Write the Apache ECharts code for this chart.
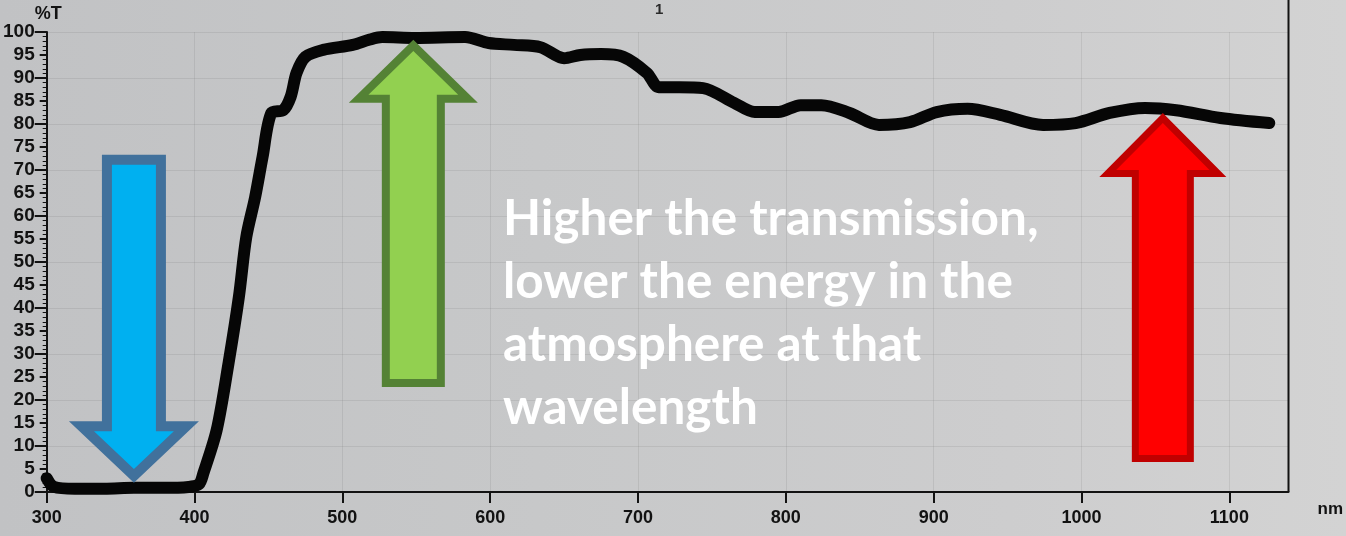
<!DOCTYPE html>
<html>
<head>
<meta charset="utf-8">
<script src="https://cdn.jsdelivr.net/npm/echarts@6/dist/echarts.min.js"></script>
<style>
  html, body { margin: 0; padding: 0; }
  body {
    width: 1346px; height: 536px; overflow: hidden;
    background: linear-gradient(90deg, #c1c2c4 0%, #c7c8c9 40%, #cdcdce 75%, #d3d3d3 100%);
  }
  #chart { width: 1346px; height: 536px; }
</style>
</head>
<body>
<div id="chart"></div>
<script>
// Transmission spectrum (%T versus wavelength in nm)
const wavelength = [300, 305, 319, 339, 359, 379, 396, 403, 406, 415, 423, 430, 435, 441, 446, 452,
  460, 465, 469, 475, 487, 507, 518, 527, 549, 583, 599, 616, 634, 650, 661, 675, 690, 706, 714,
  728, 744, 765, 779, 795, 810, 824, 843, 863, 884, 902, 923, 945, 974, 996, 1019, 1043, 1064,
  1094, 1127];
const transmission = [3.0, 1.1, 0.7, 0.7, 0.9, 0.9, 1.1, 1.7, 4.1, 13.5, 28.0, 42.4, 55.4, 64.1,
  72.8, 82.4, 83.0, 85.9, 91.1, 94.6, 96.1, 97.2, 98.3, 98.9, 98.7, 98.9, 97.6, 97.2, 96.7, 94.3,
  95.0, 95.2, 94.6, 91.1, 88.0, 88.0, 87.8, 84.6, 82.6, 82.6, 84.1, 84.1, 82.4, 79.8, 80.4, 82.6,
  83.3, 82.0, 79.8, 80.2, 82.4, 83.5, 83.0, 81.3, 80.2];

const xTicks = [300, 400, 500, 600, 700, 800, 900, 1000, 1100];
const xRange = [300, 1140];
const yRange = [0, 100];

// Wavelengths marked by the arrows, with the %T levels of tail, neck and tip
const arrowAt = [359, 548, 1055];
const arrowTail = [73.3, 22.8, 6.5];
const arrowNeck = [15.4, 84.6, 68.5];
const arrowTip = [2.0, 98.3, 82.4];

const noteLines = [
  'Higher the transmission,',
  'lower the energy in the',
  'atmosphere at that',
  'wavelength'
];

// Arrow styles: fill, outline, outline width, half shaft width, half head width
const arrowStyles = [
  { fill: '#00b0f0', edge: '#41719c', border: 10, shaft: 32, head: 65 },
  { fill: '#92d050', edge: '#548235', border: 8, shaft: 31.5, head: 64.5 },
  { fill: '#ff0000', edge: '#c00000', border: 7, shaft: 31, head: 63.5 }
];

const axisFont = "'Liberation Sans', Arial, sans-serif";
const ink = '#121212';
const paperGrid = 'rgba(95, 95, 95, 0.13)';

const chart = echarts.init(document.getElementById('chart'), null, { renderer: 'canvas' });

chart.setOption({
  backgroundColor: 'transparent',
  animation: false,
  grid: { left: 42, right: 53, top: 32, bottom: 44, containLabel: false },
  xAxis: {
    type: 'value',
    min: xRange[0], max: xRange[1], interval: 100,
    name: 'nm', nameLocation: 'end', nameGap: 29,
    nameTextStyle: { color: ink, fontFamily: axisFont, fontWeight: 'bold', fontSize: 17,
      align: 'left', verticalAlign: 'top', padding: [9, 0, 0, 0] },
    axisLine: { show: true, onZero: false, lineStyle: { color: ink, width: 2 } },
    axisTick: { show: true, customValues: xTicks, length: 11, lineStyle: { color: ink, width: 2 } },
    axisLabel: { customValues: xTicks, color: ink, fontFamily: axisFont, fontWeight: 'bold',
      fontSize: 18, margin: 17, formatter: v => String(v) },
    splitLine: { show: true, lineStyle: { color: paperGrid, width: 1 } }
  },
  yAxis: [{
    type: 'value',
    min: yRange[0], max: yRange[1], interval: 5,
    axisLine: { show: true, lineStyle: { color: ink, width: 2 } },
    axisTick: { show: true, length: 7, lineStyle: { color: ink, width: 2 } },
    minorTick: { show: true, splitNumber: 5, length: 4, lineStyle: { color: ink, width: 1 } },
    axisLabel: { color: ink, fontFamily: axisFont, fontWeight: 'bold', fontSize: 19, margin: 12,
      formatter: v => String(v) },
    splitLine: { show: false }
  }, {
    // longer ticks every 10 %T plus the faint paper grid
    type: 'value', position: 'left',
    min: yRange[0], max: yRange[1], interval: 10,
    axisLine: { show: false },
    axisTick: { show: true, length: 12, lineStyle: { color: ink, width: 2 } },
    axisLabel: { show: false },
    splitLine: { show: true, lineStyle: { color: paperGrid, width: 1 } }
  }],
  series: [{
    type: 'line',
    name: '%T',
    xAxisIndex: 0, yAxisIndex: 0,
    data: wavelength.map((w, i) => [w, transmission[i]]),
    showSymbol: false,
    smooth: 0.3,
    clip: false,
    lineStyle: { color: '#060606', width: 12, cap: 'round', join: 'round' },
    z: 3
  }]
});

// Shrink a polygon inward by d pixels (edges offset, corners re-intersected)
function inset(pts, d) {
  const n = pts.length;
  let area = 0;
  for (let i = 0; i < n; i++) {
    const p = pts[i], q = pts[(i + 1) % n];
    area += p[0] * q[1] - q[0] * p[1];
  }
  const sgn = area > 0 ? 1 : -1;
  const lines = pts.map((p, i) => {
    const q = pts[(i + 1) % n];
    const dx = q[0] - p[0], dy = q[1] - p[1];
    const len = Math.hypot(dx, dy);
    const nx = sgn * -dy / len, ny = sgn * dx / len;
    return { p: [p[0] + nx * d, p[1] + ny * d], v: [dx, dy] };
  });
  return pts.map((_, i) => {
    const a = lines[(i - 1 + n) % n], b = lines[i];
    const cr = a.v[0] * b.v[1] - a.v[1] * b.v[0];
    const wx = b.p[0] - a.p[0], wy = b.p[1] - a.p[1];
    const t = (wx * b.v[1] - wy * b.v[0]) / cr;
    return [a.p[0] + a.v[0] * t, a.p[1] + a.v[1] * t];
  });
}

function toPx(x, y) {
  return chart.convertToPixel({ xAxisIndex: 0, yAxisIndex: 0 }, [x, y]);
}

const graphics = [];

// right-hand frame of the recorder chart
const frameTop = toPx(xRange[1], yRange[1]);
const frameBottom = toPx(xRange[1], yRange[0]);
graphics.push({
  type: 'line', z: 2,
  shape: { x1: frameTop[0], y1: 0, x2: frameBottom[0], y2: frameBottom[1] },
  style: { stroke: ink, lineWidth: 2 }
});

// axis unit above the %T scale
const axisTop = toPx(xRange[0], yRange[1]);
graphics.push({
  type: 'text', z: 5, left: axisTop[0] - 12, top: 5,
  style: { text: '%T', fill: ink, fontFamily: axisFont, fontWeight: 'bold', fontSize: 18 }
});

arrowAt.forEach((w, i) => {
  const st = arrowStyles[i];
  const cx = toPx(w, 0)[0];
  const yTail = toPx(w, arrowTail[i])[1];
  const yNeck = toPx(w, arrowNeck[i])[1];
  const yTip = toPx(w, arrowTip[i])[1];
  const outer = [
    [cx, yTip], [cx + st.head, yNeck], [cx + st.shaft, yNeck], [cx + st.shaft, yTail],
    [cx - st.shaft, yTail], [cx - st.shaft, yNeck], [cx - st.head, yNeck]
  ];
  graphics.push({ type: 'polygon', z: 100, shape: { points: outer }, style: { fill: st.edge } });
  graphics.push({ type: 'polygon', z: 101, shape: { points: inset(outer, st.border) }, style: { fill: st.fill } });
});

graphics.push({
  type: 'text', z: 110, left: 503, top: 188,
  style: {
    text: noteLines.join('\n'),
    fill: '#ffffff',
    fontFamily: 'Lato, "Open Sans", sans-serif',
    fontWeight: 'bold',
    fontSize: 49.5,
    lineHeight: 63
  }
});

// chart sheet number printed at the top
graphics.push({
  type: 'text', z: 5, left: 655, top: 2,
  style: { text: '1', fill: '#2a2a2a', fontFamily: axisFont, fontWeight: 'bold', fontSize: 15 }
});

chart.setOption({ graphic: graphics });
</script>
</body>
</html>
